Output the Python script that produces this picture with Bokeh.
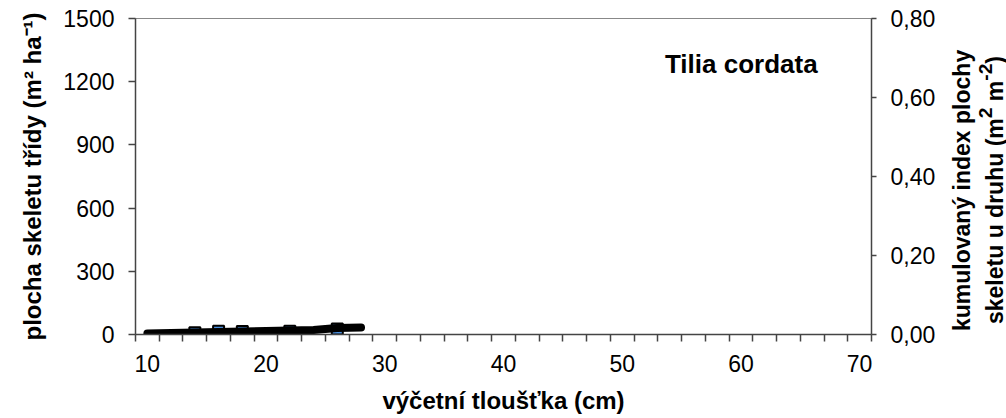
from bokeh.plotting import figure
from bokeh.layouts import row
from bokeh.models import Range1d, LinearAxis, FixedTicker, CustomJSTickFormatter, Label, Div
from bokeh.embed import file_html
from bokeh.resources import INLINE

# ---- data ----
dbh_classes = list(range(10, 72, 2))          # DBH classes (cm), category axis
dbh_tick_labels = [10, 20, 30, 40, 50, 60, 70]
class_dbh = [14, 16, 18, 22, 26]              # classes with skeleton area
class_area = [8, 15, 14, 15, 26]              # m2 ha-1 (left axis)
cum_dbh = [10, 12, 14, 16, 18, 20, 22, 24, 26, 28]
cum_index = [0.0025, 0.004, 0.005, 0.0063, 0.0076, 0.0089, 0.010, 0.0114, 0.0165, 0.0177]  # m2 m-2 (right axis)
left_ticks = [0, 300, 600, 900, 1200, 1500]
right_ticks = [0, 0.2, 0.4, 0.6, 0.8]
species = "Tilia cordata"
right_title_html = "kumulovaný index plochy<br>skeletu u druhu (m<sup>2</sup> m<sup>-2</sup>)"

CLASS_W = 2  # category width in cm
def center(d):
    return [v + CLASS_W / 2 for v in d]

FONT = "Liberation Sans"
AX = "#444444"
FIG_W = 950

p = figure(width=FIG_W, height=418, output_backend="svg", toolbar_location=None,
           x_range=Range1d(dbh_classes[0], dbh_classes[-1] + CLASS_W),
           y_range=Range1d(left_ticks[0], left_ticks[-1]),
           min_border_left=135, min_border_right=FIG_W - 871, min_border_top=18, min_border_bottom=84,
           background_fill_color="white", border_fill_color="white")
p.outline_line_color = "#888888"
p.grid.visible = False
p.extra_y_ranges = {"right": Range1d(right_ticks[0], right_ticks[-1])}

# x axis: tick marks at class boundaries, labels at class centres
xa = p.xaxis[0]
lab_pos = center(dbh_tick_labels)
xa.ticker = FixedTicker(ticks=lab_pos, minor_ticks=dbh_classes + [dbh_classes[-1] + CLASS_W])
xa.major_label_overrides = {float(c): str(l) for c, l in zip(lab_pos, dbh_tick_labels)}
xa.major_tick_out = 0
xa.major_tick_in = 0
xa.minor_tick_out = 7
xa.minor_tick_in = 0
xa.major_label_standoff = 13
xa.axis_label = "výčetní tloušťka (cm)"
xa.axis_label_standoff = 12

ya = p.yaxis[0]
ya.ticker = FixedTicker(ticks=left_ticks)
ya.major_tick_out = 7
ya.major_tick_in = 0
ya.minor_tick_out = 0
ya.minor_tick_in = 0
ya.major_label_standoff = 14
ya.axis_label = "plocha skeletu třídy (m² ha⁻¹)"
ya.axis_label_standoff = 14

ra = LinearAxis(y_range_name="right")
ra.ticker = FixedTicker(ticks=right_ticks)
ra.formatter = CustomJSTickFormatter(code="return tick.toFixed(2).replace('.', ',');")
ra.major_tick_out = 5
ra.major_tick_in = 0
ra.minor_tick_out = 0
ra.minor_tick_in = 0
ra.major_label_standoff = 14
p.add_layout(ra, "right")

for ax in (xa, ya, ra):
    ax.axis_line_color = AX
    ax.major_tick_line_color = AX
    ax.minor_tick_line_color = AX
    ax.axis_line_width = 1.5
    ax.major_tick_line_width = 1.5
    ax.minor_tick_line_width = 1.5
    ax.major_label_text_font = FONT
    ax.major_label_text_font_size = "23px"
    ax.major_label_text_color = "black"
    ax.axis_label_text_font = FONT
    ax.axis_label_text_font_size = "24px"
    ax.axis_label_text_font_style = "bold"
    ax.axis_label_text_color = "black"

p.scatter(center(class_dbh), class_area, marker="square", size=11,
          fill_color="#4a90e0", line_color="black", line_width=2)
p.line(center(cum_dbh), cum_index, y_range_name="right", line_color="black",
       line_width=8, line_cap="round", line_join="round")

p.add_layout(Label(x=54.6, y=1285, text=species, text_font=FONT, text_font_size="26px",
                   text_font_style="bold", text_color="black", text_baseline="alphabetic"))

# right axis title: two lines reading bottom-to-top
div = Div(width=1006 - FIG_W, height=418, text=(
    "<div style=\"writing-mode:vertical-rl;transform:rotate(180deg);"
    "font-family:'Liberation Sans',Arial,sans-serif;font-weight:bold;font-size:23px;"
    "line-height:23px;text-align:center;color:black;white-space:nowrap;"
    "width:46px;height:370px;margin:0 0 0 -4px;padding:0;\">"
    + right_title_html + "</div>"))

layout = row(p, div, spacing=0)
open("out.html", "w").write(file_html(layout, INLINE))
